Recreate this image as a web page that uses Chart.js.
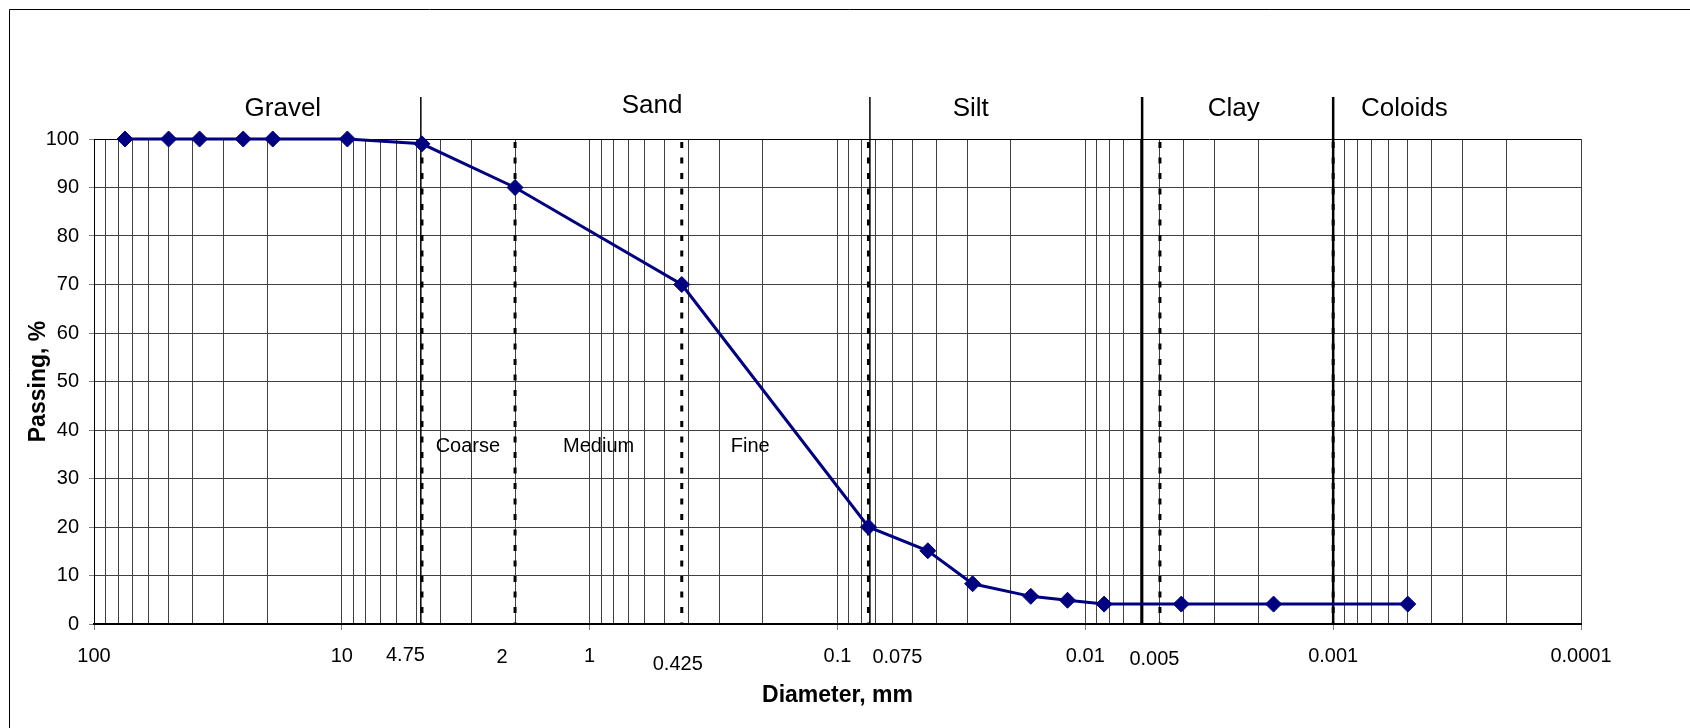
<!DOCTYPE html>
<html>
<head>
<meta charset="utf-8">
<script src="https://cdn.jsdelivr.net/npm/chart.js@4.4.1/dist/chart.umd.min.js"></script>
<style>
html,body{margin:0;padding:0;background:#fff;}
#wrap{position:relative;width:1690px;height:728px;}
canvas{display:block;}
</style>
</head>
<body>
<div id="wrap"><canvas id="c" width="1690" height="728"></canvas></div>
<script>
// ---- data ----
const diameters = [75, 50, 37.5, 25, 19, 9.5, 4.75, 2, 0.425, 0.075, 0.0432, 0.0285, 0.0166, 0.0118, 0.0084, 0.0041, 0.00174, 0.0005];
const passing   = [100, 100, 100, 100, 100, 100, 99, 90, 70, 20, 15.1, 8.3, 5.7, 4.9, 4.1, 4.1, 4.1, 4.1];

const decadeTicks  = [100, 10, 1, 0.1, 0.01, 0.001, 0.0001];
const decadeLabels = ['100', '10', '1', '0.1', '0.01', '0.001', '0.0001'];
const minorSteps   = [2, 3, 4, 5, 6, 7, 8, 9];
const yTickStep    = 10;

const sieveValues = [4.75, 2, 0.425, 0.075, 0.005, 0.001];
const sieveLabels = ['4.75', '2', '0.425', '0.075', '0.005'];

const zoneBoundaries = [4.8, 0.074, 0.0059, 0.001];
const zoneNames      = ['Gravel', 'Sand', 'Silt', 'Clay', 'Coloids'];
const zoneLabelAt    = [17.3, 0.56, 0.029, 0.00252, 0.000516];

const sandParts     = ['Coarse', 'Medium', 'Fine'];
const sandPartAt    = [3.1, 0.92, 0.225];
const sandPartLevel = 36.5;

// ---- styles ----
const FONT = '"Liberation Sans", Arial, sans-serif';
const sieveLabelStyle = [
  {dx: -16.5, dy: 31.7}, {dx: -13, dy: 33.4}, {dx: -4, dy: 40}, {dx: 29, dy: 33}, {dx: -5.5, dy: 35}
];
const zoneLabelBaseline = [-23.3, -26, -23.3, -23.3, -23.3];
const boundaryWidths = [1.5, 1.5, 2.5, 2.5];

const allXTicks = [];
decadeTicks.forEach(d => {
  allXTicks.push(d);
  if (d < 100) minorSteps.forEach(k => allXTicks.push(d * k));
});

const points = diameters.map((d, i) => ({x: d, y: passing[i]}));

const overlay = {
  id: 'overlay',
  beforeDatasetsDraw(chart) {
    const {ctx, chartArea: a, scales: {x, y}} = chart;
    ctx.save();
    ctx.strokeStyle = '#000';
    ctx.lineWidth = 3;
    ctx.setLineDash([6, 9.5]);
    sieveValues.forEach(v => {
      const px = x.getPixelForValue(v);
      ctx.beginPath(); ctx.moveTo(px, a.top + 3); ctx.lineTo(px, a.bottom); ctx.stroke();
    });
    ctx.setLineDash([]);
    zoneBoundaries.forEach((v, i) => {
      const px = x.getPixelForValue(v);
      ctx.lineWidth = boundaryWidths[i];
      ctx.beginPath(); ctx.moveTo(px, a.top - 42); ctx.lineTo(px, a.bottom); ctx.stroke();
    });
    ctx.fillStyle = '#000';
    ctx.font = '20px ' + FONT;
    ctx.textAlign = 'center';
    ctx.textBaseline = 'middle';
    sandParts.forEach((t, i) => {
      ctx.fillText(t, x.getPixelForValue(sandPartAt[i]), y.getPixelForValue(sandPartLevel));
    });
    ctx.restore();
  },
  afterDraw(chart) {
    const {ctx, chartArea: a, scales: {x}} = chart;
    ctx.save();
    ctx.fillStyle = '#000';
    ctx.textAlign = 'center';
    ctx.font = '26px ' + FONT;
    ctx.textBaseline = 'alphabetic';
    zoneNames.forEach((t, i) => {
      ctx.fillText(t, x.getPixelForValue(zoneLabelAt[i]), a.top + zoneLabelBaseline[i]);
    });
    ctx.font = '20px ' + FONT;
    ctx.textBaseline = 'middle';
    sieveLabels.forEach((t, i) => {
      const s = sieveLabelStyle[i];
      ctx.fillText(t, x.getPixelForValue(sieveValues[i]) + s.dx, a.bottom + s.dy);
    });
    // outer frame
    ctx.strokeStyle = '#000';
    ctx.lineWidth = 1;
    ctx.beginPath();
    ctx.moveTo(9.5, 728); ctx.lineTo(9.5, 9.5); ctx.lineTo(1690, 9.5);
    ctx.stroke();
    ctx.restore();
  }
};

new Chart(document.getElementById('c'), {
  type: 'line',
  data: {
    datasets: [{
      data: points,
      borderColor: '#000080',
      backgroundColor: '#000080',
      borderWidth: 3,
      pointStyle: 'rectRot',
      pointRadius: 8,
      pointBorderWidth: 1,
      pointBorderColor: '#000080',
      pointBackgroundColor: '#000080',
      tension: 0,
      clip: false
    }]
  },
  options: {
    responsive: false,
    animation: false,
    devicePixelRatio: 1,
    layout: {padding: {top: 139, right: 109, bottom: 0, left: 0}},
    plugins: {legend: {display: false}, tooltip: {enabled: false}},
    scales: {
      x: {
        type: 'logarithmic',
        reverse: true,
        min: 0.0001,
        max: 100,
        afterBuildTicks: scale => { scale.ticks = allXTicks.map(v => ({value: v})); },
        afterFit: scale => { scale.height = 104; },
        ticks: {
          autoSkip: false,
          maxRotation: 0,
          minRotation: 0,
          padding: 14,
          color: '#000',
          font: {family: FONT, size: 20},
          callback: v => { const i = decadeTicks.indexOf(v); return i >= 0 ? decadeLabels[i] : ''; }
        },
        grid: {
          color: '#404040',
          lineWidth: 1,
          tickLength: 6,
          tickColor: ctx => (ctx.tick && decadeTicks.indexOf(ctx.tick.value) >= 0) ? '#808080' : 'rgba(0,0,0,0)'
        },
        border: {display: true, color: '#000', width: 2},
        title: {
          display: true,
          text: 'Diameter, mm',
          color: '#000',
          font: {family: FONT, size: 23, weight: 'bold'},
          padding: {top: 0, bottom: 19}
        }
      },
      y: {
        min: 0,
        max: 100,
        afterFit: scale => { scale.width = 94; },
        ticks: {
          stepSize: yTickStep,
          padding: 10,
          color: '#000',
          font: {family: FONT, size: 20}
        },
        grid: {
          color: ctx => (ctx.tick && ctx.tick.value === 100) ? '#000' : '#404040',
          lineWidth: 1,
          tickLength: 5,
          tickColor: '#808080'
        },
        border: {display: true, color: '#000', width: 1},
        title: {
          display: true,
          text: 'Passing, %',
          color: '#000',
          font: {family: FONT, size: 23, weight: 'bold'},
          padding: {top: 25, bottom: 0}
        }
      }
    }
  },
  plugins: [overlay]
});
</script>
</body>
</html>
